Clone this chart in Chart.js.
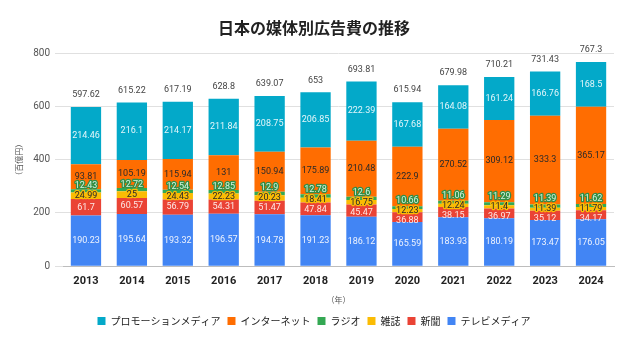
<!DOCTYPE html>
<html lang="ja">
<head>
<meta charset="utf-8">
<script src="https://cdn.jsdelivr.net/npm/chart.js@4/dist/chart.umd.min.js"></script>
<style>
  html, body { margin: 0; padding: 0; background: #fff; }
  #wrap { width: 640px; height: 344px; }
</style>
</head>
<body>
<div id="wrap"><canvas id="adChart" width="640" height="344"></canvas></div>
<script>
// 媒体別広告費（百億円）
const years = ["2013", "2014", "2015", "2016", "2017", "2018", "2019", "2020", "2021", "2022", "2023", "2024"];
const tv = [190.23, 195.64, 193.32, 196.57, 194.78, 191.23, 186.12, 165.59, 183.93, 180.19, 173.47, 176.05];
const newspaper = [61.7, 60.57, 56.79, 54.31, 51.47, 47.84, 45.47, 36.88, 38.15, 36.97, 35.12, 34.17];
const magazine = [24.99, 25, 24.43, 22.23, 20.23, 18.41, 16.75, 12.23, 12.24, 11.4, 11.39, 11.79];
const radio = [12.43, 12.72, 12.54, 12.85, 12.9, 12.78, 12.6, 10.66, 11.06, 11.29, 11.39, 11.62];
const internet = [93.81, 105.19, 115.94, 131, 150.94, 175.89, 210.48, 222.9, 270.52, 309.12, 333.3, 365.17];
const promo = [214.46, 216.1, 214.17, 211.84, 208.75, 206.85, 222.39, 167.68, 164.08, 161.24, 166.76, 168.5];
const totals = [597.62, 615.22, 617.19, 628.8, 639.07, 653, 693.81, 615.94, 679.98, 710.21, 731.43, 767.3];
const yTicks = [0, 200, 400, 600, 800];

// bottom to top
const series = [
  { name: "テレビメディア", values: tv, color: "#4285F4", text: "#eef3fe", halo: null },
  { name: "新聞", values: newspaper, color: "#EA4335", text: "#fde8e6", halo: null },
  { name: "雑誌", values: magazine, color: "#FBBC04", text: "#2a2a2a", halo: "#FBBC04" },
  { name: "ラジオ", values: radio, color: "#34A853", text: "#d6f1dc", halo: "#2f8f48" },
  { name: "インターネット", values: internet, color: "#FF6D01", text: "#2a2a2a", halo: null },
  { name: "プロモーションメディア", values: promo, color: "#03A9C9", text: "#e3f6fa", halo: null },
];

// value labels inside the stacks, totals above
const segmentLabels = {
  id: "segmentLabels",
  afterDatasetsDraw(chart) {
    const ctx = chart.ctx;
    const y = chart.scales.y;
    ctx.save();
    ctx.font = "9px Roboto, sans-serif";
    ctx.textAlign = "center";
    ctx.textBaseline = "middle";
    ctx.lineJoin = "round";
    years.forEach((yr, i) => {
      const x = chart.getDatasetMeta(0).data[i].x;
      let base = 0;
      const ys = series.map(s => {
        const c = y.getPixelForValue(base + s.values[i] / 2);
        base += s.values[i];
        return c;
      });
      // keep the thin segments' labels apart
      ys[3] = Math.min(ys[3], ys[2] - 10);
      ys[1] = Math.max(ys[1], ys[2] + 10);
      series.forEach((s, k) => {
        const txt = String(s.values[i]);
        if (s.halo) {
          ctx.strokeStyle = s.halo;
          ctx.lineWidth = 2.5;
          ctx.strokeText(txt, x, ys[k]);
        }
        ctx.fillStyle = s.text;
        ctx.fillText(txt, x, ys[k]);
      });
      ctx.fillStyle = "#444";
      ctx.fillText(String(totals[i]), x, y.getPixelForValue(totals[i]) - 12);
    });
    ctx.restore();
  }
};

const ctx = document.getElementById("adChart");
const chart = new Chart(ctx, {
  type: "bar",
  data: {
    labels: years,
    datasets: series.map(s => ({
      label: s.name,
      data: s.values,
      backgroundColor: s.color,
      borderWidth: 0,
      categoryPercentage: 0.66,
      barPercentage: 1,
    })),
  },
  options: {
    responsive: false,
    animation: false,
    devicePixelRatio: 1,
    layout: { padding: { left: 14, right: 26, top: 0, bottom: 8 } },
    plugins: {
      title: {
        display: true,
        text: "日本の媒体別広告費の推移",
        color: "#222",
        font: { family: "'Noto Sans CJK JP', sans-serif", size: 16, weight: "bold" },
        padding: { top: 18, bottom: 16 },
      },
      legend: {
        position: "bottom",
        reverse: true,
        labels: {
          boxWidth: 8,
          boxHeight: 8,
          color: "#222",
          padding: 7,
          font: { family: "'Noto Sans CJK JP', sans-serif", size: 10 },
        },
      },
      tooltip: { enabled: false },
    },
    scales: {
      x: {
        stacked: true,
        grid: { display: false },
        border: { color: "#bdbdbd", width: 1 },
        ticks: { color: "#222", font: { family: "Roboto, sans-serif", size: 11, weight: "bold" }, padding: 0 },
        title: {
          display: true,
          text: "（年）",
          color: "#555",
          font: { family: "'Noto Sans CJK JP', sans-serif", size: 8 },
          padding: { top: 8, bottom: 4 },
        },
      },
      y: {
        stacked: true,
        min: 0,
        max: 800,
        afterBuildTicks(scale) { scale.ticks = yTicks.map(v => ({ value: v })); },
        afterFit(scale) { scale.width = 49; },
        grid: { color: "#e0e0e0", tickLength: 8, drawTicks: true },
        border: { display: false },
        ticks: { color: "#555", font: { family: "Roboto, sans-serif", size: 10 }, padding: 5 },
        title: {
          display: true,
          text: "（百億円）",
          color: "#555",
          font: { family: "'Noto Sans CJK JP', sans-serif", size: 8 },
          padding: { top: 0, bottom: 4 },
        },
      },
    },
  },
  plugins: [segmentLabels],
});
</script>
</body>
</html>
